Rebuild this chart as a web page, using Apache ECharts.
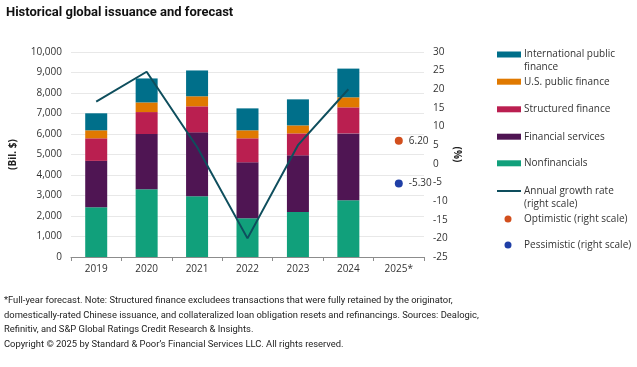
<!DOCTYPE html>
<html>
<head>
<meta charset="utf-8">
<script src="https://cdn.jsdelivr.net/npm/echarts@6/dist/echarts.min.js"></script>
<style>html,body{margin:0;padding:0;background:#fff;}#c{width:637px;height:367px;}</style>
</head>
<body>
<div id="c"></div>
<script>
const categories = ['2019','2020','2021','2022','2023','2024','2025*'];
const nonfinancials = [2430, 3300, 2960, 1890, 2200, 2770, null];
const financialServices = [2260, 2700, 3120, 2730, 2760, 3260, null];
const structuredFinance = [1100, 1070, 1270, 1170, 1070, 1270, null];
const usPublicFinance = [390, 470, 490, 390, 390, 490, null];
const intlPublicFinance = [830, 1170, 1260, 1070, 1270, 1400, null];
const growthRate = [16.7, 24.7, 4.5, -20.0, 5.0, 20.0, null];
const optimistic = [null, null, null, null, null, null, 6.2];
const pessimistic = [null, null, null, null, null, null, -5.3];
const leftTicks = {min: 0, max: 10000, interval: 1000};
const rightTicks = {min: -25, max: 30, interval: 5};

const FONT = '"Open Sans", "Liberation Sans", sans-serif';
const NOTE = 'Roboto, "Open Sans", sans-serif';
const TXT = '#333333';
const C = {
  intl: '#006f8a', us: '#e07900', sf: '#ba1f50', fs: '#4f1553', nf: '#11a07b',
  line: '#0e4e5d', opt: '#d24f1d', pes: '#1f3fa6'
};

function legendItem(name, centerY, icon, w, h, left, pad) {
  return {
    data: [name], left: left || 497, top: centerY - 6, orient: 'vertical', padding: 0,
    itemWidth: w, itemHeight: h, itemGap: 0, icon: icon,
    textStyle: {fontFamily: FONT, fontSize: 10, color: TXT, lineHeight: 12,
      padding: [0, 0, 0, pad === undefined ? -2 : pad]},
    selectedMode: false
  };
}

const chart = echarts.init(document.getElementById('c'), null, {renderer: 'canvas'});
const barBase = {type: 'bar', stack: 'total', barWidth: 22, yAxisIndex: 0};
const scatterLabel = {show: true, position: 'right', distance: 6, color: TXT, fontSize: 10, fontFamily: FONT,
  formatter: p => Number(p.value).toFixed(2)};
chart.setOption({
  animation: false,
  backgroundColor: '#fff',
  textStyle: {fontFamily: FONT},
  grid: {left: 67, right: 213, top: 52, bottom: 110},
  legend: [
    legendItem('International public finance', 54.5, 'rect', 24, 6),
    legendItem('U.S. public finance', 81.7, 'rect', 24, 6),
    legendItem('Structured finance', 109.3, 'rect', 24, 6),
    legendItem('Financial services', 136.7, 'rect', 24, 6),
    legendItem('Nonfinancials', 163.3, 'rect', 24, 6),
    legendItem('Annual growth rate (right scale)', 191, 'rect', 24, 2),
    legendItem('Optimistic (right scale)', 219, 'circle', 7, 7, 504.5, 7.5),
    legendItem('Pessimistic (right scale)', 245, 'circle', 7, 7, 504.5, 7.5)
  ].map((l, i) => {
    if (i === 0) l.formatter = () => 'International public';
    if (i === 5) l.formatter = () => 'Annual growth rate';
    return l;
  }),
  xAxis: {
    type: 'category', data: categories,
    axisLine: {lineStyle: {color: '#8c8c8c', width: 1}},
    axisTick: {show: true, length: 4, lineStyle: {color: '#8c8c8c'}},
    axisLabel: {color: TXT, fontSize: 10, fontFamily: FONT, margin: 7}
  },
  yAxis: [{
    type: 'value', min: leftTicks.min, max: leftTicks.max, interval: leftTicks.interval,
    name: '(Bil. $)', nameLocation: 'middle', nameGap: 53, nameRotate: 90,
    nameTextStyle: {fontFamily: FONT, fontSize: 10, fontWeight: 'bold', color: '#222'},
    axisLine: {show: false}, axisTick: {show: false},
    axisLabel: {color: TXT, fontSize: 10, fontFamily: FONT, margin: 9,
      formatter: v => v.toLocaleString('en-US')},
    splitLine: {lineStyle: {color: '#e8e8e8', width: 1}}
  }, {
    type: 'value', min: rightTicks.min, max: rightTicks.max, interval: rightTicks.interval,
    position: 'right',
    name: '(%)', nameLocation: 'middle', nameGap: 28, nameRotate: -90, nameMoveOverlap: false,
    nameTextStyle: {fontFamily: FONT, fontSize: 10, fontWeight: 'bold', color: '#222'},
    axisLine: {show: false}, axisTick: {show: false},
    axisLabel: {color: TXT, fontSize: 10, fontFamily: FONT, margin: 9},
    splitLine: {show: false}
  }],
  series: [
    Object.assign({name: 'Nonfinancials', data: nonfinancials, itemStyle: {color: C.nf}}, barBase),
    Object.assign({name: 'Financial services', data: financialServices, itemStyle: {color: C.fs}}, barBase),
    Object.assign({name: 'Structured finance', data: structuredFinance, itemStyle: {color: C.sf}}, barBase),
    Object.assign({name: 'U.S. public finance', data: usPublicFinance, itemStyle: {color: C.us}}, barBase),
    Object.assign({name: 'International public finance', data: intlPublicFinance, itemStyle: {color: C.intl}}, barBase),
    {name: 'Annual growth rate (right scale)', type: 'line', yAxisIndex: 1, data: growthRate,
      symbol: 'none', lineStyle: {color: C.line, width: 2}, itemStyle: {color: C.line}},
    {name: 'Optimistic (right scale)', type: 'scatter', yAxisIndex: 1, data: optimistic,
      symbolSize: 8, itemStyle: {color: C.opt, opacity: 1}, label: scatterLabel},
    {name: 'Pessimistic (right scale)', type: 'scatter', yAxisIndex: 1, data: pessimistic,
      symbolSize: 8, itemStyle: {color: C.pes, opacity: 1}, label: scatterLabel}
  ],
  graphic: [
    {type: 'text', left: 6, top: 6, style: {text: 'Historical global issuance and forecast',
      font: 'bold 13px Roboto, sans-serif', fill: '#111'}},
    {type: 'text', left: 524, top: 62.5, style: {text: 'finance', font: '10px ' + FONT, fill: TXT}},
    {type: 'text', left: 524, top: 199, style: {text: '(right scale)', font: '10px ' + FONT, fill: TXT}},
    {type: 'text', left: 4, top: 296.5, style: {text: '*Full-year forecast. Note: Structured finance excludees transactions that were fully retained by the originator,', font: '9.4px ' + NOTE, fill: '#222'}},
    {type: 'text', left: 4, top: 311, style: {text: 'domestically-rated Chinese issuance, and collateralized loan obligation resets and refinancings. Sources: Dealogic,', font: '9.4px ' + NOTE, fill: '#222'}},
    {type: 'text', left: 4, top: 325.5, style: {text: 'Refinitiv, and S&P Global Ratings Credit Research & Insights.', font: '9.4px ' + NOTE, fill: '#222'}},
    {type: 'text', left: 4, top: 340, style: {text: 'Copyright \u00a9 2025 by Standard & Poor\u2019s Financial Services LLC. All rights reserved.', font: '9.4px ' + NOTE, fill: '#222'}}
  ]
});
</script>
</body>
</html>
